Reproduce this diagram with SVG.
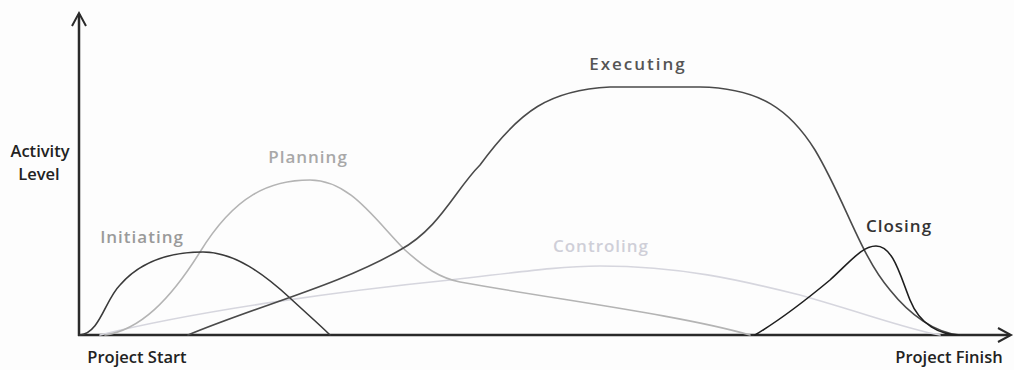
<svg xmlns="http://www.w3.org/2000/svg" width="1014" height="370" viewBox="0 0 1014 370">
<style>
text{font-family:"Open Sans","Noto Sans","Liberation Sans",sans-serif;font-weight:600;font-size:16.5px;text-anchor:middle}
.lbl{font-size:17px;letter-spacing:1px}
.axis{fill:none;stroke:#2a2a2a;stroke-width:2.5}
.arrow{fill:none;stroke:#2a2a2a;stroke-width:2}
.c{fill:none;stroke-width:1.6;stroke-linecap:round}
</style>
<rect width="1014" height="370" fill="#fdfdfd"/>
<g id="axes">
<path class="axis" d="M79,336 L79,14"/>
<path class="axis" d="M78,335 L1010,335"/>
<path class="arrow" d="M72,26 L79,13 L86,26"/>
<path class="arrow" d="M998,328 L1011,335 L998,342"/>
</g>
<g id="connectors">
<path id="controling-curve" class="c" stroke="#d6d6de" d="M100,335 C200,310 350,290 450,280 C520,272 560,266 600,266 C680,266 740,280 800,295 C870,315 910,330 940,335"/>
<path id="planning-curve" class="c" stroke="#b4b4b4" d="M105,335 C140,330 170,300 200,252 C235,195 270,180 310,180 C350,180 375,220 405,250 C425,268 440,278 460,282 C560,300 680,315 750,335"/>
<path id="initiating-curve" class="c" stroke="#3a3a3a" d="M80,335 C100,333 105,300 120,285 C140,262 170,252 203,252 C235,252 265,275 290,298 C305,312 320,325 330,335"/>
<path id="executing-curve" class="c" stroke="#4a4a4a" d="M188,335 C260,305 340,285 400,250 C440,228 455,190 480,165 C520,110 550,90 610,87 L700,87 C760,88 790,110 815,150 C845,200 860,255 890,290 C910,315 935,333 960,335"/>
<path id="closing-curve" class="c" stroke="#1e1e1e" stroke-width="1.8" d="M755,335 C780,320 800,305 830,280 C850,262 862,246 876,246 C893,246 900,275 910,300 C920,325 940,335 960,335"/>
</g>
<g id="y-label"><text x="40" y="157" fill="#222">Activity</text><text x="39" y="180" fill="#222">Level</text></g>
<g id="start-label"><text x="137" y="363" fill="#222">Project Start</text></g>
<g id="finish-label"><text x="949" y="363" fill="#222">Project Finish</text></g>
<g id="initiating"><text class="lbl" x="142" y="243" fill="#9a9a9a">Initiating</text></g>
<g id="planning"><text class="lbl" x="308" y="163" fill="#a8a8a8">Planning</text></g>
<g id="executing"><text class="lbl" x="638" y="70" fill="#555" style="letter-spacing:2px">Executing</text></g>
<g id="controling"><text class="lbl" x="601" y="252" fill="#cfcfd8">Controling</text></g>
<g id="closing"><text class="lbl" x="899" y="232" fill="#333">Closing</text></g>
</svg>
